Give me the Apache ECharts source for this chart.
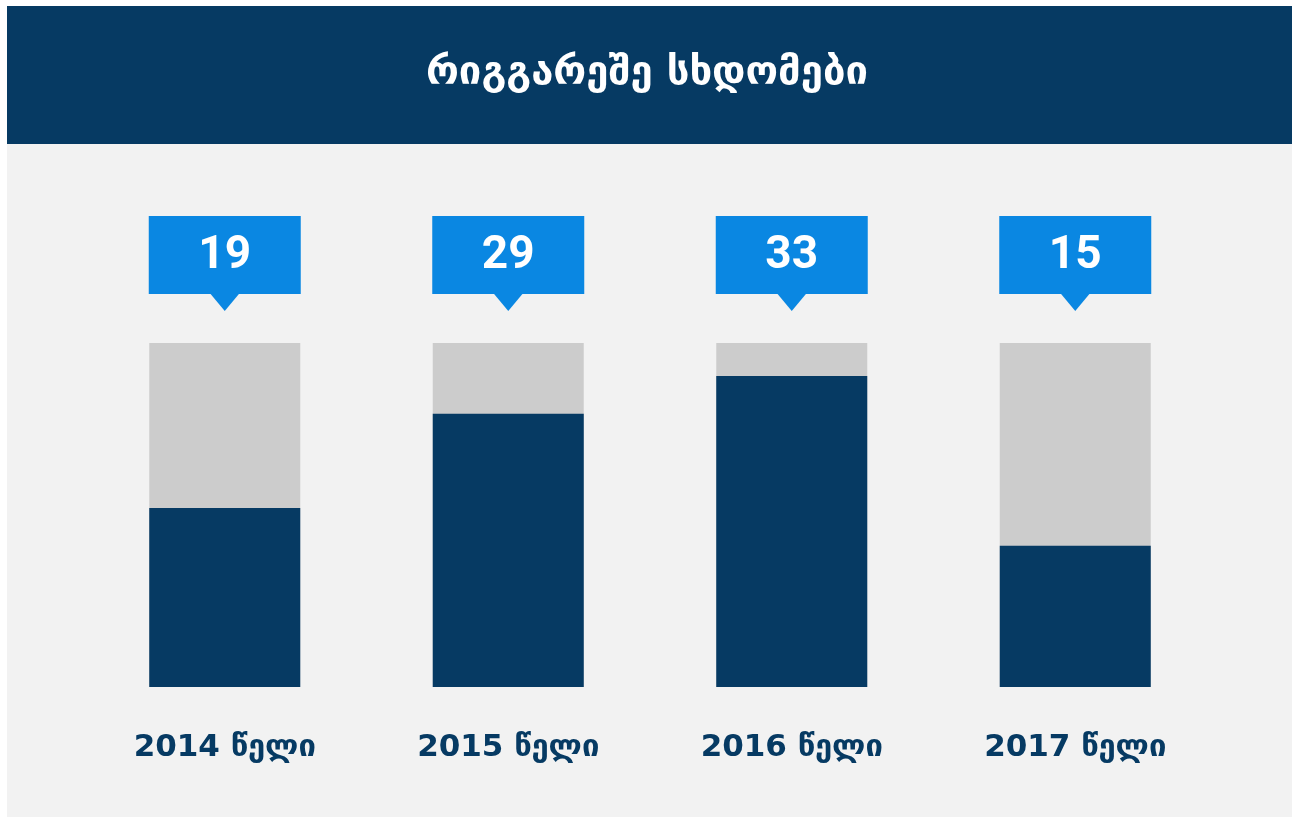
<!DOCTYPE html>
<html><head><meta charset="utf-8">
<script src="https://cdn.jsdelivr.net/npm/echarts@6/dist/echarts.min.js"></script>
<style>html,body{margin:0;padding:0;background:#fff}#c{width:1294px;height:818px}</style>
</head><body><div id="c"></div>
<script>
const title = 'რიგგარეშე სხდომები';
const categories = ['2014 წელი', '2015 წელი', '2016 წელი', '2017 წელი'];
const values = [19, 29, 33, 15];
const axisMax = 36.5;

const chart = echarts.init(document.getElementById('c'));
chart.setOption({
  backgroundColor: '#ffffff',
  animation: false,
  title: {
    text: title, left: 'center', top: 49,
    textStyle: {color: '#ffffff', fontSize: 40, fontWeight: 'bold', fontFamily: 'DejaVu Sans'}
  },
  graphic: [
    {type: 'rect', z: -10, shape: {x: 7, y: 6, width: 1285, height: 811}, style: {fill: '#f2f2f2'}},
    {type: 'rect', z: -9, shape: {x: 7, y: 6, width: 1285, height: 138}, style: {fill: '#063a63'}}
  ],
  grid: {left: 83, right: 77, top: 343, bottom: 131},
  xAxis: {
    type: 'category', data: categories,
    axisLine: {show: false}, axisTick: {show: false},
    axisLabel: {color: '#063a63', fontSize: 31, fontWeight: 'bold', fontFamily: 'DejaVu Sans', margin: 45}
  },
  yAxis: {type: 'value', min: 0, max: axisMax, show: false, splitLine: {show: false}},
  series: [
    {
      type: 'bar', data: values, barWidth: 151,
      itemStyle: {color: '#063a63'},
      showBackground: true, backgroundStyle: {color: '#cccccc'}
    },
    {
      type: 'custom', data: values.map((v, i) => [i, v]),
      renderItem: function (params, api) {
        const p = api.coord([api.value(0), axisMax]);
        const x = p[0], y = p[1];
        return {
          type: 'group',
          children: [
            {type: 'rect', shape: {x: x - 76, y: y - 127, width: 152, height: 78}, style: {fill: '#0a87e2'}},
            {type: 'polygon', shape: {points: [[x - 15, y - 50], [x + 15, y - 50], [x, y - 32]]}, style: {fill: '#0a87e2'}},
            {type: 'text', style: {text: String(api.value(1)), x: x, y: y - 87, align: 'center', verticalAlign: 'middle',
              fill: '#ffffff', font: 'bold 46px Roboto'}}
          ]
        };
      }
    }
  ]
});
</script></body></html>
